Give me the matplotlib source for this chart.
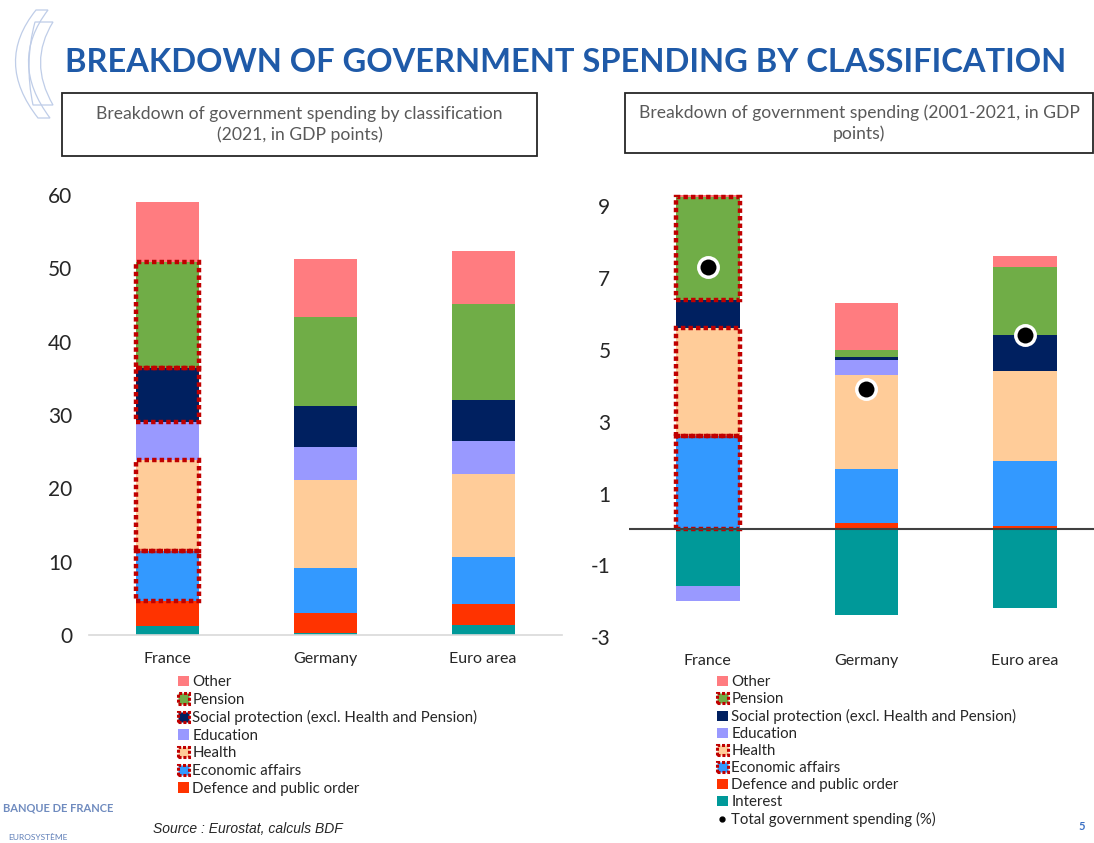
import numpy as np
import matplotlib
matplotlib.use("Agg")
import matplotlib.pyplot as plt
from matplotlib.patches import Rectangle, Patch, PathPatch
from matplotlib.path import Path
from matplotlib.lines import Line2D

plt.rcParams['font.family'] = ['Lato', 'DejaVu Sans']
plt.rcParams['axes.unicode_minus'] = False

W, H = 1094, 843

countries = ["France", "Germany", "Euro area"]
# stacking order, bottom to top
series = ["Interest", "Defence and public order", "Economic affairs", "Health",
          "Education", "Social protection (excl. Health and Pension)", "Pension", "Other"]
colors = ["#009999", "#FF3300", "#3399FF", "#FFCC99",
          "#9999FF", "#002060", "#70AD47", "#FF7C80"]

# 2021, in GDP points
lvl_interest = [1.2, 0.3, 1.3]
lvl_defence = [3.5, 2.7, 2.9]
lvl_econ = [6.8, 6.1, 6.5]
lvl_health = [12.4, 12.0, 11.3]
lvl_education = [5.2, 4.6, 4.5]
lvl_social = [7.3, 5.5, 5.6]
lvl_pension = [14.5, 12.1, 13.0]
lvl_other = [8.1, 8.0, 7.2]

# change 2001-2021, in GDP points
chg_interest = [-1.57, -2.39, -2.18]
chg_defence = [0.0, 0.18, 0.09]
chg_econ = [2.59, 1.51, 1.81]
chg_health = [3.01, 2.62, 2.50]
chg_education = [-0.42, 0.41, 0.0]
chg_social = [0.79, 0.08, 1.00]
chg_pension = [2.87, 0.20, 1.91]
chg_other = [0.05, 1.31, 0.30]
chg_total = [7.3, 3.9, 5.42]

levels = [lvl_interest, lvl_defence, lvl_econ, lvl_health,
          lvl_education, lvl_social, lvl_pension, lvl_other]
changes = [chg_interest, chg_defence, chg_econ, chg_health,
           chg_education, chg_social, chg_pension, chg_other]

outlined_left = {"Economic affairs", "Health", "Social protection (excl. Health and Pension)", "Pension"}
outlined_right = {"Economic affairs", "Health", "Pension"}
RED = "#C00000"
DOT = (0, (1.0, 0.7))


def fig_xy(x, y):
    return x / W, 1 - y / H


def stack(ax, data, outlined, width, ypad):
    x = np.arange(len(countries))
    pos = np.zeros(len(countries))
    neg = np.zeros(len(countries))
    segs = []
    for name, col, vals in zip(series, colors, data):
        vals = np.array(vals, dtype=float)
        bottom = np.where(vals >= 0, pos, neg)
        ax.bar(x, vals, width, bottom=bottom, color=col, linewidth=0, zorder=2)
        segs.append((name, vals, bottom))
        pos = np.where(vals >= 0, pos + vals, pos)
        neg = np.where(vals < 0, neg + vals, neg)
    # dotted frames around France's highlighted segments
    for name, vals, bottom in segs:
        if name in outlined:
            ax.bar(x[:1], vals[:1], width, bottom=bottom[:1], fill=False,
                   edgecolor=RED, linewidth=3.2, linestyle=DOT, zorder=3)
    ax.set_xticks(x)
    ax.set_xticklabels(countries, fontsize=11.5, color="#262626")
    ax.tick_params(axis='x', length=0, pad=12)
    ax.tick_params(axis='y', length=0, pad=ypad, labelsize=15, labelcolor="#262626")
    for s in ["top", "right", "left"]:
        ax.spines[s].set_visible(False)


fig = plt.figure(figsize=(W / 100, H / 100), dpi=100)

# left chart
axL = fig.add_axes([89 / W, 1 - 635 / H, 473 / W, 440 / H])
stack(axL, levels, outlined_left, 0.4, 12)
axL.set_xlim(-0.5, 2.5)
axL.set_ylim(0, 60)
axL.set_yticks(np.arange(0, 61, 10))
axL.spines["bottom"].set_color("#D9D9D9")
axL.spines["bottom"].set_linewidth(1.2)

# right chart
axR = fig.add_axes([628.5 / W, 1 - 637.3 / H, 465.5 / W, (637.3 - 191.6) / H])
stack(axR, changes, outlined_right, 0.4, 13)
axR.set_xlim(-0.5, 2.435)
axR.set_ylim(-3, 9.4)
axR.set_yticks(np.arange(-3, 10, 2))
axR.spines["bottom"].set_visible(False)
axR.axhline(0, color="#404040", linewidth=1.5, zorder=4)
axR.plot(np.arange(len(countries)), chg_total, linestyle="none", marker="o",
         markersize=14, markerfacecolor="black", markeredgecolor="white",
         markeredgewidth=2.5, zorder=5)

# title
fig.text(65 / W, 1 - 62 / H, "BREAKDOWN OF GOVERNMENT SPENDING BY CLASSIFICATION",
         fontsize=23.5, fontweight="bold", color="#1F5AA8", ha="left", va="center")

# subtitle boxes
for (x0, y0, x1, y1, txt) in [
        (62, 93, 537, 156, "Breakdown of government spending by classification\n(2021, in GDP points)"),
        (625, 93, 1093, 153, "Breakdown of government spending (2001-2021, in GDP\npoints)")]:
    fig.patches.append(Rectangle(fig_xy(x0, y1), (x1 - x0) / W, (y1 - y0) / H,
                                 transform=fig.transFigure, fill=False,
                                 edgecolor="#262626", linewidth=1.3))
    cx, cy = fig_xy((x0 + x1) / 2, (y0 + y1) / 2)
    fig.text(cx, cy, txt, ha="center", va="center", fontsize=12.6,
             color="#595959", linespacing=1.3)


# legends
def handles_for(names, outlined, with_dot=False):
    hs = []
    for name in names:
        col = colors[series.index(name)]
        if name in outlined:
            hs.append(Patch(facecolor=col, edgecolor=RED, linewidth=2.2, linestyle=(0, (1, 0.6))))
        else:
            hs.append(Patch(facecolor=col, edgecolor="none"))
    labels = list(names)
    if with_dot:
        hs.append(Line2D([], [], linestyle="none", marker="o", markersize=3.5, color="black"))
        labels.append("Total government spending (%)")
    return hs, labels


left_names = ["Other", "Pension", "Social protection (excl. Health and Pension)",
              "Education", "Health", "Economic affairs", "Defence and public order"]
right_names = left_names + ["Interest"]

hL, lL = handles_for(left_names, outlined_left)
hR, lR = handles_for(right_names, outlined_right, with_dot=True)

legL = fig.legend(hL, lL, loc="upper left", bbox_to_anchor=fig_xy(178, 675),
                  frameon=False, fontsize=10.8, handlelength=0.7, handleheight=0.7,
                  handletextpad=0.25, labelspacing=0.24, borderpad=0, borderaxespad=0)
legR = fig.legend(hR, lR, loc="upper left", bbox_to_anchor=fig_xy(717, 675),
                  frameon=False, fontsize=10.8, handlelength=0.7, handleheight=0.7,
                  handletextpad=0.25, labelspacing=0.2, borderpad=0, borderaxespad=0)
for leg in (legL, legR):
    for t in leg.get_texts():
        t.set_color("#262626")

# source and page number
fig.text(153 / W, 1 - 829 / H, "Source : Eurostat, calculs BDF", fontsize=10,
         style="italic", family="Liberation Sans", color="#262626", va="center")
fig.text(1082 / W, 1 - 826 / H, "5", fontsize=8, color="#3A6FC4", fontweight="bold",
         va="center", ha="center")

# logo
fig.text(3 / W, 1 - 808 / H, "BANQUE DE FRANCE", fontsize=8, fontweight="bold",
         color="#6F8BBF", va="center")
fig.text(8 / W, 1 - 838 / H, "EUROSYSTÈME", fontsize=6, color="#5F7FB8", va="center")

# decorative arcs top-left
arc_col = "#BFCDE8"
for pts in [[(36, 10), (-6, 62), (38, 118), (50, 118), (8, 62), (48, 10), (36, 10)],
            [(35, 22), (24, 62), (33, 105), (53, 105), (28, 62), (53, 22), (35, 22)]]:
    verts = [fig_xy(*p) for p in pts]
    codes = [Path.MOVETO, Path.CURVE3, Path.CURVE3, Path.LINETO,
             Path.CURVE3, Path.CURVE3, Path.CLOSEPOLY]
    fig.patches.append(PathPatch(Path(verts, codes), transform=fig.transFigure,
                                 fill=False, edgecolor=arc_col, linewidth=0.9))

fig.savefig("out.png", dpi=100)
